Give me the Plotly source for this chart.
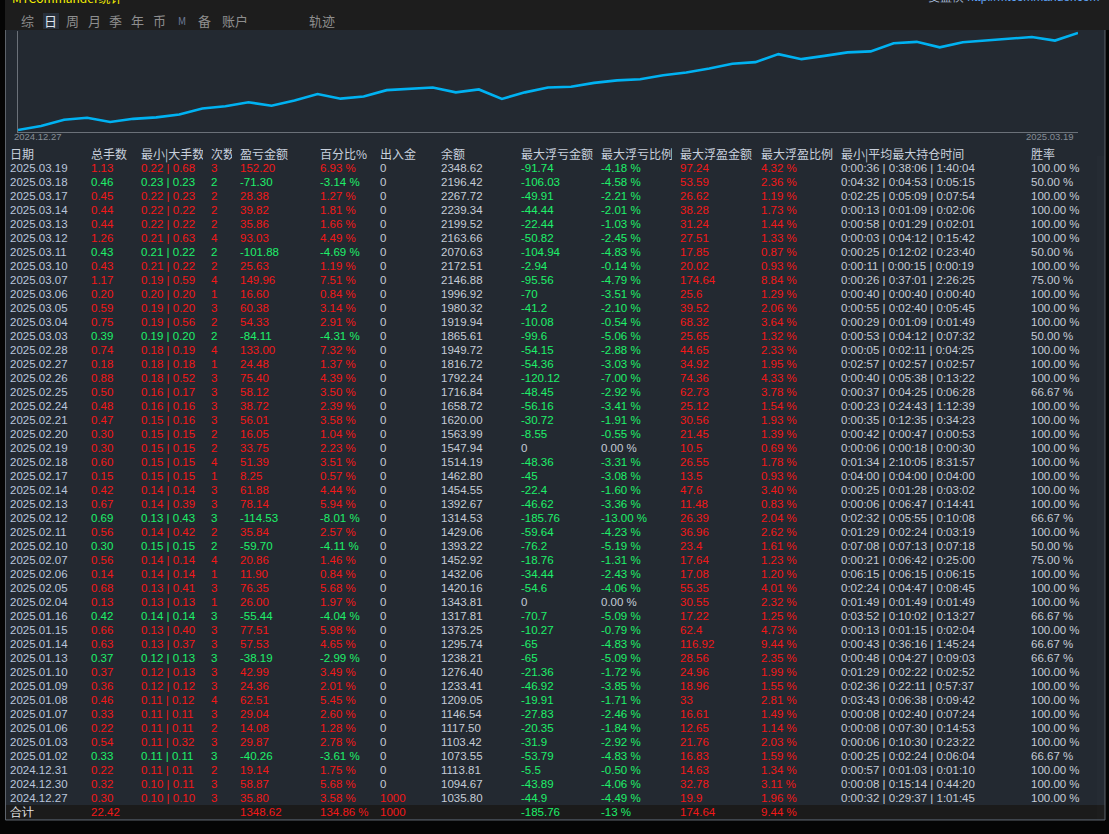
import math
import plotly.graph_objects as go

# daily statistics, newest first (as listed in the table)
dates = ["2025.03.19", "2025.03.18", "2025.03.17", "2025.03.14", "2025.03.13", "2025.03.12",
         "2025.03.11", "2025.03.10", "2025.03.07", "2025.03.06", "2025.03.05", "2025.03.04",
         "2025.03.03", "2025.02.28", "2025.02.27", "2025.02.26", "2025.02.25", "2025.02.24",
         "2025.02.21", "2025.02.20", "2025.02.19", "2025.02.18", "2025.02.17", "2025.02.14",
         "2025.02.13", "2025.02.12", "2025.02.11", "2025.02.10", "2025.02.07", "2025.02.06",
         "2025.02.05", "2025.02.04", "2025.01.16", "2025.01.15", "2025.01.14", "2025.01.13",
         "2025.01.10", "2025.01.09", "2025.01.08", "2025.01.07", "2025.01.06", "2025.01.03",
         "2025.01.02", "2024.12.31", "2024.12.30", "2024.12.27"]
total_lots = [1.13, 0.46, 0.45, 0.44, 0.44, 1.26, 0.43, 0.43, 1.17, 0.20, 0.59, 0.75,
              0.39, 0.74, 0.18, 0.88, 0.50, 0.48, 0.47, 0.30, 0.30, 0.60, 0.15, 0.42,
              0.67, 0.69, 0.56, 0.30, 0.56, 0.14, 0.68, 0.13, 0.42, 0.66, 0.63, 0.37,
              0.37, 0.36, 0.46, 0.33, 0.22, 0.54, 0.33, 0.22, 0.32, 0.30]
min_lots = [0.22, 0.23, 0.22, 0.22, 0.22, 0.21, 0.21, 0.21, 0.19, 0.20, 0.19, 0.19,
            0.19, 0.18, 0.18, 0.18, 0.16, 0.16, 0.15, 0.15, 0.15, 0.15, 0.15, 0.14,
            0.14, 0.13, 0.14, 0.15, 0.14, 0.14, 0.13, 0.13, 0.14, 0.13, 0.13, 0.12,
            0.12, 0.12, 0.11, 0.11, 0.11, 0.11, 0.11, 0.11, 0.10, 0.10]
max_lots = [0.68, 0.23, 0.23, 0.22, 0.22, 0.63, 0.22, 0.22, 0.59, 0.20, 0.20, 0.56,
            0.20, 0.19, 0.18, 0.52, 0.17, 0.16, 0.16, 0.15, 0.15, 0.15, 0.15, 0.14,
            0.39, 0.43, 0.42, 0.15, 0.14, 0.14, 0.41, 0.13, 0.14, 0.40, 0.37, 0.13,
            0.13, 0.12, 0.12, 0.11, 0.11, 0.32, 0.11, 0.11, 0.11, 0.10]
trades = [3, 2, 2, 2, 2, 4, 2, 2, 4, 1, 3, 2, 2, 4, 1, 3, 3, 3, 3, 2, 2, 4, 1, 3,
          3, 3, 2, 2, 4, 1, 3, 1, 3, 3, 3, 3, 3, 3, 4, 3, 2, 3, 3, 2, 3, 3]
pnl = [152.20, -71.30, 28.38, 39.82, 35.86, 93.03, -101.88, 25.63, 149.96, 16.60, 60.38, 54.33,
       -84.11, 133.00, 24.48, 75.40, 58.12, 38.72, 56.01, 16.05, 33.75, 51.39, 8.25, 61.88,
       78.14, -114.53, 35.84, -59.70, 20.86, 11.90, 76.35, 26.00, -55.44, 77.51, 57.53, -38.19,
       42.99, 24.36, 62.51, 29.04, 14.08, 29.87, -40.26, 19.14, 58.87, 35.80]
pnl_pct = [6.93, -3.14, 1.27, 1.81, 1.66, 4.49, -4.69, 1.19, 7.51, 0.84, 3.14, 2.91,
           -4.31, 7.32, 1.37, 4.39, 3.50, 2.39, 3.58, 1.04, 2.23, 3.51, 0.57, 4.44,
           5.94, -8.01, 2.57, -4.11, 1.46, 0.84, 5.68, 1.97, -4.04, 5.98, 4.65, -2.99,
           3.49, 2.01, 5.45, 2.60, 1.28, 2.78, -3.61, 1.75, 5.68, 3.58]
deposits = [0] * 45 + [1000]
balance = [2348.62, 2196.42, 2267.72, 2239.34, 2199.52, 2163.66, 2070.63, 2172.51, 2146.88, 1996.92,
           1980.32, 1919.94, 1865.61, 1949.72, 1816.72, 1792.24, 1716.84, 1658.72, 1620.00, 1563.99,
           1547.94, 1514.19, 1462.80, 1454.55, 1392.67, 1314.53, 1429.06, 1393.22, 1452.92, 1432.06,
           1420.16, 1343.81, 1317.81, 1373.25, 1295.74, 1238.21, 1276.40, 1233.41, 1209.05, 1146.54,
           1117.50, 1103.42, 1073.55, 1113.81, 1094.67, 1035.80]
max_float_loss = [-91.74, -106.03, -49.91, -44.44, -22.44, -50.82, -104.94, -2.94, -95.56, -70,
                  -41.2, -10.08, -99.6, -54.15, -54.36, -120.12, -48.45, -56.16, -30.72, -8.55,
                  0, -48.36, -45, -22.4, -46.62, -185.76, -59.64, -76.2, -18.76, -34.44,
                  -54.6, 0, -70.7, -10.27, -65, -65, -21.36, -46.92, -19.91, -27.83,
                  -20.35, -31.9, -53.79, -5.5, -43.89, -44.9]
max_float_loss_pct = [-4.18, -4.58, -2.21, -2.01, -1.03, -2.45, -4.83, -0.14, -4.79, -3.51,
                      -2.10, -0.54, -5.06, -2.88, -3.03, -7.00, -2.92, -3.41, -1.91, -0.55,
                      0.00, -3.31, -3.08, -1.60, -3.36, -13.00, -4.23, -5.19, -1.31, -2.43,
                      -4.06, 0.00, -5.09, -0.79, -4.83, -5.09, -1.72, -3.85, -1.71, -2.46,
                      -1.84, -2.92, -4.83, -0.50, -4.06, -4.49]
max_float_profit = [97.24, 53.59, 26.62, 38.28, 31.24, 27.51, 17.85, 20.02, 174.64, 25.6,
                    39.52, 68.32, 25.65, 44.65, 34.92, 74.36, 62.73, 25.12, 30.56, 21.45,
                    10.5, 26.55, 13.5, 47.6, 11.48, 26.39, 36.96, 23.4, 17.64, 17.08,
                    55.35, 30.55, 17.22, 62.4, 116.92, 28.56, 24.96, 18.96, 33, 16.61,
                    12.65, 21.76, 16.83, 14.63, 32.78, 19.9]
max_float_profit_pct = [4.32, 2.36, 1.19, 1.73, 1.44, 1.33, 0.87, 0.93, 8.84, 1.29,
                        2.06, 3.64, 1.32, 2.33, 1.95, 4.33, 3.78, 1.54, 1.93, 1.39,
                        0.69, 1.78, 0.93, 3.40, 0.83, 2.04, 2.62, 1.61, 1.23, 1.20,
                        4.01, 2.32, 1.25, 4.73, 9.44, 2.35, 1.99, 1.55, 2.81, 1.49,
                        1.14, 2.03, 1.59, 1.34, 3.11, 1.96]
hold_min = ["0:00:36", "0:04:32", "0:02:25", "0:00:13", "0:00:58", "0:00:03", "0:00:25", "0:00:11",
            "0:00:26", "0:00:40", "0:00:55", "0:00:29", "0:00:53", "0:00:05", "0:02:57", "0:00:40",
            "0:00:37", "0:00:23", "0:00:35", "0:00:42", "0:00:06", "0:01:34", "0:04:00", "0:00:25",
            "0:00:06", "0:02:32", "0:01:29", "0:07:08", "0:00:21", "0:06:15", "0:02:24", "0:01:49",
            "0:03:52", "0:00:13", "0:00:43", "0:00:48", "0:01:29", "0:02:36", "0:03:43", "0:00:08",
            "0:00:08", "0:00:06", "0:00:25", "0:00:57", "0:00:08", "0:00:32"]
hold_avg = ["0:38:06", "0:04:53", "0:05:09", "0:01:09", "0:01:29", "0:04:12", "0:12:02", "0:00:15",
            "0:37:01", "0:00:40", "0:02:40", "0:01:09", "0:04:12", "0:02:11", "0:02:57", "0:05:38",
            "0:04:25", "0:24:43", "0:12:35", "0:00:47", "0:00:18", "2:10:05", "0:04:00", "0:01:28",
            "0:06:47", "0:05:55", "0:02:24", "0:07:13", "0:06:42", "0:06:15", "0:04:47", "0:01:49",
            "0:10:02", "0:01:15", "0:36:16", "0:04:27", "0:02:22", "0:22:11", "0:06:38", "0:02:40",
            "0:07:30", "0:10:30", "0:02:24", "0:01:03", "0:15:14", "0:29:37"]
hold_max = ["1:40:04", "0:05:15", "0:07:54", "0:02:06", "0:02:01", "0:15:42", "0:23:40", "0:00:19",
            "2:26:25", "0:00:40", "0:05:45", "0:01:49", "0:07:32", "0:04:25", "0:02:57", "0:13:22",
            "0:06:28", "1:12:39", "0:34:23", "0:00:53", "0:00:30", "8:31:57", "0:04:00", "0:03:02",
            "0:14:41", "0:10:08", "0:03:19", "0:07:18", "0:25:00", "0:06:15", "0:08:45", "0:01:49",
            "0:13:27", "0:02:04", "1:45:24", "0:09:03", "0:02:52", "0:57:37", "0:09:42", "0:07:24",
            "0:14:53", "0:23:22", "0:06:04", "0:01:10", "0:44:20", "1:01:45"]
win_rate = [100, 50, 100, 100, 100, 100, 50, 100, 75, 100, 100, 100, 50, 100, 100, 100,
            66.67, 100, 100, 100, 100, 100, 100, 100, 100, 66.67, 100, 50, 75, 100, 100, 100,
            66.67, 100, 66.67, 66.67, 100, 100, 100, 100, 100, 100, 66.67, 100, 100, 100]

# totals row
total_row = ["合计", "22.42", "", "", "1348.62", "134.86 %", "1000", "", "-185.76", "-13 %",
             "174.64", "9.44 %", "", ""]

headers = ["日期", "总手数", "最小|大手数", "次数", "盈亏金额", "百分比%", "出入金", "余额",
           "最大浮亏金额", "最大浮亏比例", "最大浮盈金额", "最大浮盈比例", "最小|平均最大持仓时间", "胜率"]
tabs = ["综", "日", "周", "月", "季", "年", "币", "M", "备", "账户", "轨迹"]
tab_x = [27, 50, 72, 94, 115, 137, 159, 182, 204, 235, 322]

W, H = 1109, 834
BG = "#232931"
TOP = "#1d1d1d"
RED = "#f21818"
GREEN = "#1ef06a"
GRAY = "#c5ccd6"
DATE_C = "#b9c6dc"
FONT = "Liberation Sans, Arial, sans-serif"
CJK = "Noto Sans CJK SC, sans-serif"
NB = "\u00a0"


def px_x(p):
    return p / W


def px_y(p):
    return 1 - p / H


def pct(v):
    return f"{v:.2f} %"


n = len(dates)
up = [v >= 0 for v in pnl]
pc = [RED if u else GREEN for u in up]

cols = [
    dates,
    [f"{v:.2f}" for v in total_lots],
    [f"{a:.2f} | {b:.2f}" for a, b in zip(min_lots, max_lots)],
    [str(v) for v in trades],
    [f"{v:.2f}" for v in pnl],
    [pct(v) for v in pnl_pct],
    [str(v) for v in deposits],
    [f"{v:.2f}" for v in balance],
    [f"{v:g}" for v in max_float_loss],
    [pct(v) for v in max_float_loss_pct],
    [f"{v:g}" for v in max_float_profit],
    [pct(v) for v in max_float_profit_pct],
    [f"{a} | {b} | {c}" for a, b, c in zip(hold_min, hold_avg, hold_max)],
    [f"{v:.2f} %" for v in win_rate],
]
colors = [
    [DATE_C] * n, pc, pc, pc, pc, pc,
    [RED if v else GRAY for v in deposits],
    [GRAY] * n,
    [GREEN if v else GRAY for v in max_float_loss],
    [GREEN if v else GRAY for v in max_float_loss_pct],
    [RED] * n, [RED] * n, [GRAY] * n, [GRAY] * n,
]
total_colors = ["#e6e6e6", RED, RED, RED, RED, RED, RED, GRAY, GREEN, GREEN, RED, RED, GRAY, GRAY]
for i in range(len(cols)):
    # non-breaking spaces keep every cell on one line
    cols[i] = [s.replace(" ", NB) for s in cols[i] + [total_row[i]]]
    colors[i] = colors[i] + [total_colors[i]]

col_left = [10, 91, 141, 211, 240, 320, 380, 441, 521, 601, 680, 761, 841, 1031]
col_right = 1105
widths = [b - a for a, b in zip(col_left, col_left[1:] + [col_right])]

fig = go.Figure()

# balance curve, oldest first, starting from the initial deposit
curve = [deposits[-1]] + balance[::-1]
fig.add_trace(go.Scatter(
    x=list(range(len(curve))), y=curve, mode="lines",
    line=dict(color="#00b2f2", width=2.6), hoverinfo="skip", showlegend=False,
))

CLEAR = "rgba(0,0,0,0)"
fig.add_trace(go.Table(
    domain=dict(x=[px_x(col_left[0] - 8), px_x(col_right - 8)], y=[px_y(821), px_y(141.5)]),
    columnwidth=widths,
    header=dict(values=headers, height=14, align="left",
                fill_color=CLEAR, line=dict(width=0, color=CLEAR),
                font=dict(family=CJK, size=12, color="#c8d0dc")),
    cells=dict(values=cols, height=14, align="left",
               fill_color=CLEAR, line=dict(width=0, color=CLEAR),
               font=dict(family=FONT, size=11.5, color=colors)),
))

shapes = [
    dict(type="rect", xref="paper", yref="paper", x0=0, x1=1, y0=px_y(30), y1=1,
         fillcolor=TOP, line_width=0, layer="below"),
    dict(type="rect", xref="paper", yref="paper", x0=px_x(43), x1=px_x(59), y0=px_y(29), y1=px_y(13),
         fillcolor="#28303b", line_width=0, layer="below"),
    # darker band behind the totals row
    dict(type="rect", xref="paper", yref="paper", x0=px_x(6), x1=px_x(1105), y0=px_y(819), y1=px_y(805),
         fillcolor="#1b1b1b", line_width=0, layer="below"),
    dict(type="rect", xref="paper", yref="paper", x0=0, x1=1, y0=0, y1=px_y(820),
         fillcolor="#050505", line_width=0, layer="above"),
    dict(type="rect", xref="paper", yref="paper", x0=0, x1=px_x(5), y0=0, y1=1,
         fillcolor="#050505", line_width=0, layer="above"),
    dict(type="rect", xref="paper", yref="paper", x0=px_x(1105), x1=1, y0=0, y1=px_y(30),
         fillcolor="#050505", line_width=0, layer="above"),
    dict(type="line", xref="paper", yref="paper", x0=px_x(5.5), x1=px_x(5.5), y0=px_y(820), y1=px_y(30),
         line=dict(color="#5d636b", width=1), layer="above"),
    dict(type="line", xref="paper", yref="paper", x0=px_x(5.5), x1=px_x(1105), y0=px_y(820), y1=px_y(820),
         line=dict(color="#5d636b", width=1), layer="above"),
    dict(type="line", xref="paper", yref="paper", x0=px_x(1105), x1=px_x(1105), y0=px_y(820), y1=px_y(30),
         line=dict(color="#5d636b", width=1), layer="above"),
]

annotations = [
    dict(text="MTCommander统计", x=px_x(10), y=px_y(-3), xanchor="left", yanchor="middle",
         font=dict(family=CJK, size=12, color="#f5f000")),
    dict(text="<span style='color:#a9bddb'>复盘侠</span> http://mtcommander.com", x=px_x(1101), y=px_y(-3),
         xanchor="right", yanchor="middle", font=dict(family=FONT, size=12, color="#5fa2f5")),
    dict(text=dates[-1], x=px_x(12), y=px_y(137), xanchor="left", yanchor="middle",
         font=dict(family=FONT, size=9.5, color="#868d96")),
    dict(text=dates[0], x=px_x(1076), y=px_y(137), xanchor="right", yanchor="middle",
         font=dict(family=FONT, size=9.5, color="#868d96")),
]
for t, x in zip(tabs, tab_x):
    c = "#dfe4ec" if t == "日" else "#8e8e8e"
    size = 10 if t == "M" else 13
    if t == "M":
        c = "#6c7896"
    annotations.append(dict(text=t, x=px_x(x), y=px_y(21), xanchor="center", yanchor="middle",
                            font=dict(family=CJK, size=size, color=c)))
for a in annotations:
    a.update(xref="paper", yref="paper", showarrow=False)

lo, hi = min(curve), max(curve)
fig.update_layout(
    width=W, height=H, margin=dict(l=0, r=0, t=0, b=0),
    paper_bgcolor=BG, plot_bgcolor=BG,
    shapes=shapes, annotations=annotations, showlegend=False,
    xaxis=dict(domain=[px_x(18), px_x(1078)], range=[0, len(curve) - 1],
               showgrid=False, zeroline=False, showticklabels=False, ticks="",
               showline=True, linecolor="#6b7179", linewidth=1),
    yaxis=dict(domain=[px_y(132), px_y(31)], type="log",
               range=[math.log10(lo) - 0.0076, math.log10(hi) + 0.0076],
               showgrid=False, zeroline=False, showticklabels=False, ticks="",
               showline=True, linecolor="#6b7179", linewidth=1),
)

fig.write_html("out.html", config={"displayModeBar": False},
               post_script="document.body.style.margin = '0';")
